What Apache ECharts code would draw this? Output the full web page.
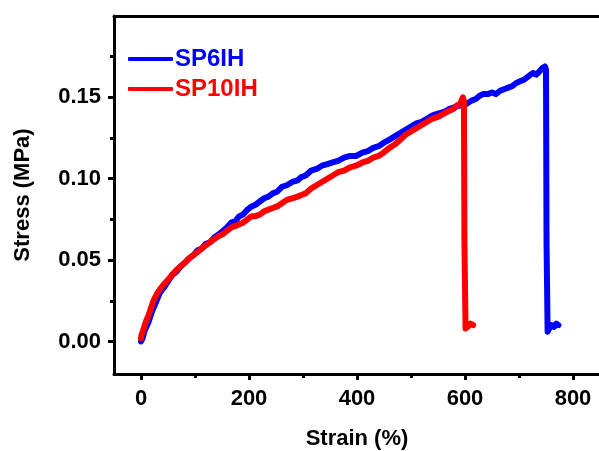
<!DOCTYPE html>
<html>
<head>
<meta charset="utf-8">
<script src="https://cdn.jsdelivr.net/npm/echarts@6/dist/echarts.min.js"></script>
<style>
  html, body { margin: 0; padding: 0; background: #fff; }
  #chart { width: 599px; height: 451px; }
</style>
</head>
<body>
<div id="chart"></div>
<script>
// SP6IH (blue) strain (%) / stress (MPa)
const sp6Strain = [0, 3, 6, 10, 14, 17, 21, 25, 30, 35, 42, 50, 58, 66, 73, 80, 89, 97, 105, 112, 120, 128, 136, 145, 152, 159, 167, 175, 182, 189, 197, 205, 212, 220, 228, 236, 244, 252, 261, 270, 280, 290, 297, 305, 315, 325, 335, 345, 355, 365, 376, 387, 398, 410, 420, 430, 440, 449, 460, 470, 480, 490, 500, 510, 520, 530, 540, 550, 561, 572, 581, 590, 597, 603, 612, 620, 627, 634, 642, 650, 657, 665, 672, 680, 688, 696, 703, 710, 718, 726, 732, 738, 743, 748, 750, 751, 753, 756, 760, 765, 769, 773];
const sp6Stress = [0.000, 0.002, 0.006, 0.009, 0.012, 0.015, 0.019, 0.022, 0.026, 0.030, 0.033, 0.037, 0.041, 0.043, 0.046, 0.048, 0.051, 0.053, 0.056, 0.057, 0.060, 0.061, 0.064, 0.066, 0.068, 0.070, 0.073, 0.074, 0.077, 0.078, 0.081, 0.083, 0.084, 0.086, 0.088, 0.089, 0.091, 0.092, 0.095, 0.096, 0.098, 0.099, 0.101, 0.102, 0.105, 0.106, 0.108, 0.109, 0.110, 0.111, 0.113, 0.114, 0.114, 0.116, 0.117, 0.119, 0.120, 0.122, 0.124, 0.126, 0.128, 0.130, 0.132, 0.134, 0.135, 0.137, 0.139, 0.140, 0.141, 0.143, 0.144, 0.145, 0.145, 0.146, 0.148, 0.149, 0.151, 0.152, 0.152, 0.153, 0.152, 0.154, 0.155, 0.156, 0.157, 0.159, 0.160, 0.161, 0.163, 0.165, 0.164, 0.166, 0.168, 0.169, 0.167, 0.060, 0.006, 0.008, 0.010, 0.009, 0.011, 0.010];

// SP10IH (red)
const sp10Strain = [0, 1, 3, 5, 8, 10, 14, 17, 20, 23, 29, 35, 42, 50, 58, 66, 73, 80, 89, 97, 105, 112, 120, 128, 136, 145, 152, 159, 167, 175, 182, 189, 197, 205, 212, 220, 228, 236, 244, 252, 261, 270, 280, 290, 297, 305, 315, 325, 335, 345, 355, 365, 376, 387, 398, 410, 420, 430, 440, 449, 460, 470, 480, 490, 500, 510, 520, 530, 540, 550, 561, 572, 579, 585, 591, 596, 598, 599, 601, 605, 610, 615];
const sp10Stress = [0.002, 0.004, 0.006, 0.008, 0.011, 0.013, 0.016, 0.019, 0.022, 0.025, 0.029, 0.032, 0.035, 0.038, 0.041, 0.044, 0.046, 0.048, 0.051, 0.053, 0.055, 0.057, 0.059, 0.061, 0.063, 0.065, 0.066, 0.068, 0.070, 0.071, 0.072, 0.073, 0.075, 0.077, 0.077, 0.078, 0.080, 0.081, 0.082, 0.083, 0.085, 0.087, 0.088, 0.089, 0.090, 0.091, 0.094, 0.096, 0.098, 0.100, 0.102, 0.104, 0.105, 0.107, 0.108, 0.110, 0.111, 0.113, 0.114, 0.116, 0.119, 0.121, 0.124, 0.127, 0.129, 0.131, 0.133, 0.135, 0.137, 0.138, 0.140, 0.142, 0.143, 0.145, 0.146, 0.150, 0.148, 0.060, 0.008, 0.009, 0.011, 0.010];

const xMajor = [0, 200, 400, 600, 800];
const xMinor = [100, 300, 500, 700];
const yMajor = [0, 0.05, 0.10, 0.15];
const yMinor = [0.025, 0.075, 0.125, 0.175];

const toPairs = (xs, ys) => xs.map((x, i) => [x, ys[i]]);

const font = 'Liberation Sans, Arial, sans-serif';
const black = '#000';

const chart = echarts.init(document.getElementById('chart'));

const baseX = {
  type: 'value', min: -50, max: 850, position: 'bottom',
  splitLine: { show: false }
};
const baseY = {
  type: 'value', min: -0.02, max: 0.20, position: 'left',
  splitLine: { show: false }
};

chart.setOption({
  animation: false,
  grid: { left: 114, right: -1, top: 16, bottom: 77, containLabel: false, outerBoundsMode: 'none' },
  legend: {
    left: 123, top: 42, orient: 'vertical',
    itemWidth: 45, itemHeight: 4, itemGap: 6,
    icon: 'roundRect',
    textStyle: { fontFamily: font, fontWeight: 'bold', fontSize: 24, padding: [0, 0, 0, -3] },
    data: [
      { name: 'SP6IH', textStyle: { color: '#0000ff' } },
      { name: 'SP10IH', textStyle: { color: '#ff0000' } }
    ]
  },
  xAxis: [
    Object.assign({}, baseX, {
      name: 'Strain (%)', nameLocation: 'middle', nameGap: 54,
      nameTextStyle: { fontFamily: font, fontWeight: 'bold', fontSize: 22, color: black },
      axisLine: { onZero: false, lineStyle: { color: black, width: 3 } },
      axisTick: { customValues: xMajor, length: 6, lineStyle: { color: black, width: 3 } },
      axisLabel: { customValues: xMajor, margin: 14, fontFamily: font, fontWeight: 'bold', fontSize: 22, color: black }
    }),
    Object.assign({}, baseX, {
      axisLine: { show: false, onZero: false },
      axisTick: { customValues: xMinor, length: 4, lineStyle: { color: black, width: 3 } },
      axisLabel: { show: false }
    }),
    Object.assign({}, baseX, {
      position: 'top',
      axisLine: { onZero: false, lineStyle: { color: black, width: 3 } },
      axisTick: { show: false },
      axisLabel: { show: false }
    })
  ],
  yAxis: [
    Object.assign({}, baseY, {
      name: 'Stress (MPa)', nameLocation: 'middle', nameGap: 80,
      nameTextStyle: { fontFamily: font, fontWeight: 'bold', fontSize: 22, color: black },
      axisLine: { onZero: false, lineStyle: { color: black, width: 3 } },
      axisTick: { customValues: yMajor, length: 6, lineStyle: { color: black, width: 3 } },
      axisLabel: {
        customValues: yMajor, margin: 13, fontFamily: font, fontWeight: 'bold', fontSize: 22, color: black,
        formatter: v => v.toFixed(2)
      }
    }),
    Object.assign({}, baseY, {
      axisLine: { show: false, onZero: false },
      axisTick: { customValues: yMinor, length: 4, lineStyle: { color: black, width: 3 } },
      axisLabel: { show: false }
    }),
    Object.assign({}, baseY, {
      position: 'right', offset: 1,
      axisLine: { onZero: false, lineStyle: { color: '#777', width: 1 } },
      axisTick: { show: false },
      axisLabel: { show: false }
    })
  ],
  series: [
    {
      name: 'SP6IH', type: 'line', data: toPairs(sp6Strain, sp6Stress),
      symbol: 'none', color: '#0000ff',
      lineStyle: { width: 6, color: '#0000ff', join: 'round', cap: 'round' }
    },
    {
      name: 'SP10IH', type: 'line', data: toPairs(sp10Strain, sp10Stress),
      symbol: 'none', color: '#ff0000',
      lineStyle: { width: 6, color: '#ff0000', join: 'round', cap: 'round' }
    }
  ]
});
</script>
</body>
</html>
